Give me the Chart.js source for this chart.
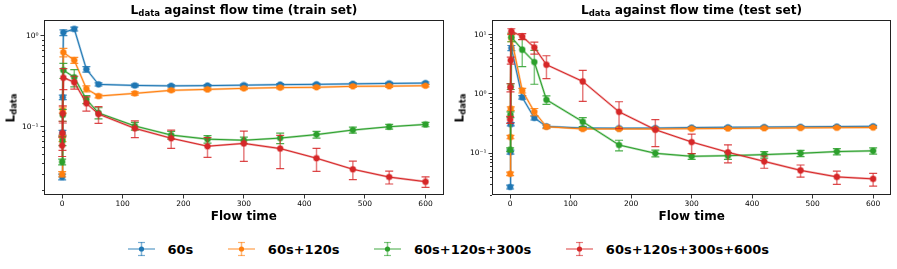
<!DOCTYPE html>
<html>
<head>
<meta charset="utf-8">
<script src="https://cdn.jsdelivr.net/npm/chart.js@4.4.1/dist/chart.umd.min.js"></script>
<style>
  html, body { margin:0; padding:0; background:#fff; }
  body { width:897px; height:269px; overflow:hidden; position:relative; font-family:"DejaVu Sans", sans-serif; color:#000; }
  .wrap { position:absolute; top:0; height:230px; }
  .wrap canvas { display:block; }
  .title { position:absolute; top:3px; font-weight:bold; font-size:12.2px; line-height:14px; white-space:nowrap; transform:translateX(-50%); }
  .sub { font-size:0.7em; position:relative; top:0.28em; }
  .ylab { position:absolute; font-weight:bold; font-size:12px; line-height:14px; white-space:nowrap; transform:translate(-50%,-50%) rotate(-90deg); }
  #legend { position:absolute; left:0; top:240px; width:897px; height:18px; display:flex; justify-content:center; align-items:center; }
  .li { display:flex; align-items:center; margin:0 17.5px; font-weight:bold; font-size:13px; }
  .li svg { margin-right:12.5px; }
</style>
</head>
<body>
<div class="wrap" style="left:0;width:448px;"><canvas id="cTrain" width="448" height="230"></canvas></div>
<div class="wrap" style="left:448px;width:449px;"><canvas id="cTest" width="449" height="230"></canvas></div>
<div class="title" style="left:244px;">L<span class="sub">data</span> against flow time (train set)</div>
<div class="title" style="left:691.5px;">L<span class="sub">data</span> against flow time (test set)</div>
<div class="ylab" style="left:11px;top:107.5px;">L<span class="sub">data</span></div>
<div class="ylab" style="left:459.5px;top:107.5px;">L<span class="sub">data</span></div>
<div id="legend"></div>
<script>
// ---------------- data ----------------
const flowTimes = [0, 0.5, 1, 2, 20, 40, 60, 120, 180, 240, 300, 360, 420, 480, 540, 600];
const seriesNames = ['60s', '60s+120s', '60s+120s+300s', '60s+120s+300s+600s'];
const seriesColors = ['#1f77b4', '#ff7f0e', '#2ca02c', '#d62728'];

// train set
const train60 = [0.028, 0.086, 0.211, 1.09, 1.195, 0.43, 0.293, 0.285, 0.282, 0.284, 0.287, 0.291, 0.293, 0.297, 0.300, 0.303];
const train60Err = [0.002, 0.005, 0.012, 0.08, 0.06, 0.03, 0.012, 0.01, 0.008, 0.008, 0.008, 0.008, 0.008, 0.008, 0.008, 0.008];
const train120 = [0.030, 0.0745, 0.153, 0.66, 0.54, 0.262, 0.218, 0.233, 0.252, 0.258, 0.265, 0.270, 0.272, 0.279, 0.280, 0.283];
const train120Err = [0.002, 0.006, 0.012, 0.07, 0.04, 0.02, 0.01, 0.01, 0.008, 0.008, 0.008, 0.008, 0.008, 0.008, 0.008, 0.008];
const train300 = [0.041, 0.070, 0.135, 0.42, 0.35, 0.20, 0.142, 0.102, 0.081, 0.073, 0.071, 0.075, 0.082, 0.092, 0.100, 0.106];
const train300Err = [0.003, 0.008, 0.02, 0.08, 0.075, 0.02, 0.02, 0.01, 0.008, 0.007, 0.006, 0.01, 0.007, 0.007, 0.006, 0.006];
const train600 = [0.062, 0.085, 0.140, 0.347, 0.31, 0.181, 0.138, 0.096, 0.0747, 0.061, 0.0655, 0.0575, 0.045, 0.034, 0.0279, 0.0248];
const train600Err = [0.015, 0.03, 0.03, 0.09, 0.05, 0.032, 0.029, 0.02, 0.017, 0.015, 0.024, 0.023, 0.0128, 0.0078, 0.0045, 0.0033];

// test set
const test60 = [0.027, 0.105, 0.31, 5.97, 0.877, 0.394, 0.284, 0.267, 0.265, 0.266, 0.272, 0.275, 0.277, 0.280, 0.283, 0.285];
const test60Err = [0.002, 0.008, 0.02, 0.6, 0.06, 0.03, 0.015, 0.01, 0.01, 0.01, 0.01, 0.01, 0.01, 0.01, 0.01, 0.01];
const test120 = [0.045, 0.188, 0.565, 8.8, 1.14, 0.50, 0.28, 0.257, 0.257, 0.257, 0.260, 0.262, 0.265, 0.268, 0.270, 0.272];
const test120Err = [0.003, 0.012, 0.04, 1.2, 0.1, 0.07, 0.02, 0.012, 0.01, 0.01, 0.01, 0.01, 0.01, 0.01, 0.01, 0.01];
const test300 = [0.115, 0.448, 1.34, 9.1, 5.6, 3.46, 0.80, 0.341, 0.138, 0.100, 0.089, 0.091, 0.095, 0.100, 0.107, 0.110];
const test300Err = [0.008, 0.05, 0.15, 1.5, 2.7, 2.0, 0.13, 0.06, 0.028, 0.013, 0.01, 0.012, 0.012, 0.012, 0.013, 0.013];
const test600 = [0.37, 1.29, 3.69, 11.4, 9.35, 6.1, 3.12, 1.63, 0.50, 0.25, 0.155, 0.104, 0.073, 0.0515, 0.040, 0.037];
const test600Err = [0.05, 0.2, 0.5, 1.2, 1.1, 1.4, 1.3, 0.88, 0.24, 0.12, 0.056, 0.035, 0.017, 0.012, 0.01, 0.009];

// ticks
const xTickValues = [0, 100, 200, 300, 400, 500, 600];
const xTickLabels = ['0', '100', '200', '300', '400', '500', '600'];
const trainYTickValues = [0.1, 1];
const trainYTickLabels = ['10\u207B\u00B9', '10\u2070'];
const testYTickValues = [0.1, 1, 10];
const testYTickLabels = ['10\u207B\u00B9', '10\u2070', '10\u00B9'];

// ---------------- helpers ----------------
function rgba(hex, a) {
  const n = parseInt(hex.slice(1), 16);
  return 'rgba(' + (n >> 16) + ',' + ((n >> 8) & 255) + ',' + (n & 255) + ',' + a + ')';
}

const errorBarPlugin = {
  id: 'errbars',
  afterDatasetDraw(chart, args) {
    const ds = chart.data.datasets[args.index];
    if (!ds.errors) return;
    const ctx = chart.ctx, xs = chart.scales.x, ys = chart.scales.y, ca = chart.chartArea;
    ctx.save();
    ctx.beginPath();
    ctx.rect(ca.left, ca.top, ca.right - ca.left, ca.bottom - ca.top);
    ctx.clip();
    ds.data.forEach((p, i) => {
      const e = ds.errors[i];
      const x = xs.getPixelForValue(p.x);
      const yt = ys.getPixelForValue(p.y + e);
      const yb = ys.getPixelForValue(Math.max(p.y - e, 1e-6));
      ctx.strokeStyle = ds.errColor; ctx.lineWidth = 1.5;
      ctx.beginPath(); ctx.moveTo(x, yt); ctx.lineTo(x, yb); ctx.stroke();
      ctx.strokeStyle = ds.capColor; ctx.lineWidth = 1.2;
      ctx.beginPath();
      ctx.moveTo(x - 4, yt); ctx.lineTo(x + 4, yt);
      ctx.moveTo(x - 4, yb); ctx.lineTo(x + 4, yb);
      ctx.stroke();
    });
    ctx.restore();
  }
};

const framePlugin = {
  id: 'frame',
  afterDraw(chart) {
    const ctx = chart.ctx, ca = chart.chartArea, ys = chart.scales.y;
    ctx.save();
    ctx.strokeStyle = '#000'; ctx.lineWidth = 0.8;
    const lo = Math.floor(Math.log10(ys.min)), hi = Math.ceil(Math.log10(ys.max));
    ctx.beginPath();
    for (let k = lo; k <= hi; k++) {
      for (let m = 2; m <= 9; m++) {
        const v = m * Math.pow(10, k);
        if (v < ys.min || v > ys.max) continue;
        const y = Math.round(ys.getPixelForValue(v)) + 0.5;
        ctx.moveTo(ca.left - 2, y); ctx.lineTo(ca.left, y);
      }
    }
    ctx.stroke();
    ctx.strokeStyle = '#222'; ctx.lineWidth = 1;
    const l = Math.round(ca.left) + 0.5, t = Math.round(ca.top) + 0.5;
    const r = Math.round(ca.right) - 0.5, b = Math.round(ca.bottom) - 0.5;
    ctx.strokeRect(l, t, r - l, b - t);
    ctx.restore();
  }
};

function makeChart(canvasId, seriesVals, seriesErrs, yMin, yMax, yTickVals, yTickLabs, padRight) {
  const datasets = [];
  seriesVals.forEach((vals, s) => {
    const col = seriesColors[s];
    const pts = vals.map((v, i) => ({ x: flowTimes[i], y: v }));
    datasets.push({
      label: seriesNames[s] + ' err',
      data: pts,
      errors: seriesErrs[s],
      errColor: rgba(col, 0.6),
      capColor: rgba(col, 0.85),
      borderColor: rgba(col, 0.4),
      borderWidth: 2.2,
      pointRadius: 3.6,
      pointBackgroundColor: rgba(col, 0.45),
      pointBorderWidth: 0,
      pointHoverRadius: 3.6,
      order: 100 - 2 * s
    });
    datasets.push({
      label: seriesNames[s],
      data: pts,
      borderColor: col,
      borderWidth: 1,
      pointRadius: 2.8,
      pointBackgroundColor: col,
      pointBorderWidth: 0,
      pointHoverRadius: 2.8,
      order: 99 - 2 * s
    });
  });

  return new Chart(document.getElementById(canvasId), {
    type: 'line',
    data: { datasets },
    plugins: [errorBarPlugin, framePlugin],
    options: {
      responsive: false,
      animation: false,
      devicePixelRatio: 1,
      events: [],
      layout: { padding: { top: 20, right: padRight, left: 0, bottom: 0 } },
      plugins: { legend: { display: false }, tooltip: { enabled: false }, title: { display: false } },
      scales: {
        x: {
          type: 'linear',
          min: -30, max: 630,
          afterBuildTicks: (sc) => { sc.ticks = xTickValues.map(v => ({ value: v })); },
          afterFit: (sc) => { sc.height = 35; },
          ticks: {
            autoSkip: false, maxRotation: 0, padding: 1,
            color: '#000', font: { family: 'DejaVu Sans', size: 7.5 },
            callback: (v, i) => xTickLabels[i]
          },
          grid: { display: true, drawOnChartArea: false, drawTicks: true, tickLength: 3.5, color: '#000', lineWidth: 0.8 },
          border: { display: false },
          title: {
            display: true, text: 'Flow time', color: '#000',
            font: { family: 'DejaVu Sans', size: 12, weight: 'bold' },
            padding: { top: 0, bottom: 6 }
          }
        },
        y: {
          type: 'logarithmic',
          min: yMin, max: yMax,
          afterBuildTicks: (sc) => { sc.ticks = yTickVals.map(v => ({ value: v, major: true })); },
          afterFit: (sc) => { sc.width = 44; },
          ticks: {
            autoSkip: false, padding: 2,
            color: '#000', font: { family: 'DejaVu Sans', size: 7.5 },
            callback: (v, i) => yTickLabs[i]
          },
          grid: { display: true, drawOnChartArea: false, drawTicks: true, tickLength: 3.5, color: '#000', lineWidth: 0.8 },
          border: { display: false }
        }
      }
    }
  });
}

makeChart('cTrain',
  [train60, train120, train300, train600],
  [train60Err, train120Err, train300Err, train600Err],
  0.0177, 1.5, trainYTickValues, trainYTickLabels, 4.3);

makeChart('cTest',
  [test60, test120, test300, test600],
  [test60Err, test120Err, test300Err, test600Err],
  0.0198, 17.7, testYTickValues, testYTickLabels, 5.7);

// legend
const legend = document.getElementById('legend');
seriesNames.forEach((name, s) => {
  const col = seriesColors[s];
  const item = document.createElement('div');
  item.className = 'li';
  item.innerHTML =
    '<svg width="27" height="18" viewBox="0 0 27 18">' +
    '<line x1="0" y1="9" x2="27" y2="9" stroke="' + col + '" stroke-opacity="0.45" stroke-width="2"/>' +
    '<line x1="13.5" y1="2" x2="13.5" y2="16" stroke="' + col + '" stroke-opacity="0.55" stroke-width="1.5"/>' +
    '<line x1="10" y1="2.5" x2="17" y2="2.5" stroke="' + col + '" stroke-opacity="0.6" stroke-width="1.2"/>' +
    '<line x1="10" y1="15.5" x2="17" y2="15.5" stroke="' + col + '" stroke-opacity="0.6" stroke-width="1.2"/>' +
    '<circle cx="13.5" cy="9" r="2.6" fill="' + col + '"/>' +
    '</svg><span>' + name + '</span>';
  legend.appendChild(item);
});
</script>
</body>
</html>
